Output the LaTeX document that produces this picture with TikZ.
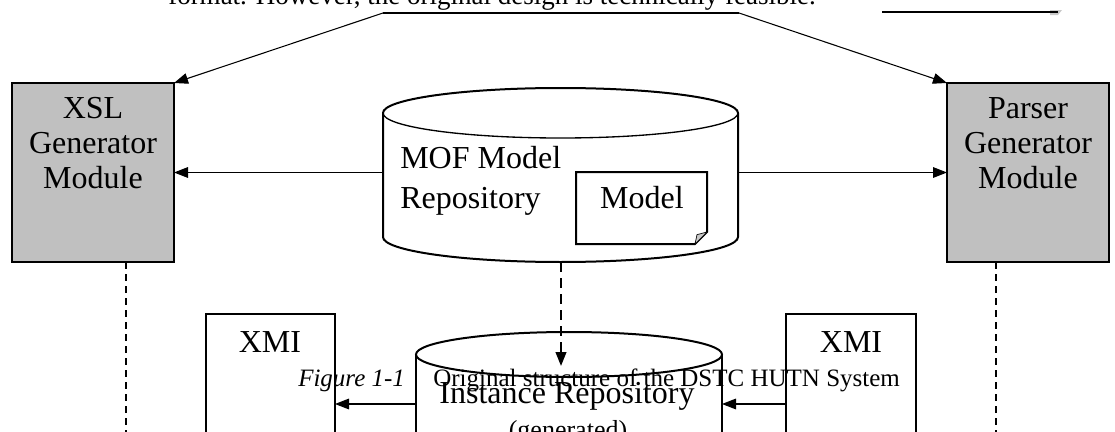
\documentclass[tikz,border=0pt]{standalone}
\usepackage{fontspec}
\setmainfont{Liberation Serif}
\usetikzlibrary{arrows.meta}
\definecolor{modgray}{RGB}{192,192,192}
\definecolor{foldgray}{RGB}{200,200,200}
\tikzset{
  module/.style={draw, fill=modgray, line width=1.5pt, inner sep=0pt, outer sep=0pt, anchor=north west},
  xmibox/.style={draw, fill=white, line width=1.5pt, inner sep=0pt, outer sep=0pt, anchor=north west},
  area/.style={draw=none, inner sep=0pt, outer sep=0pt},
  cyl/.style={line width=1.5pt},
  lbl/.style={anchor=base, inner sep=0pt, font=\fontsize{24}{28}\selectfont},
  captext/.style={anchor=base west, inner sep=0pt, font=\fontsize{18.75}{22}\selectfont},
  arr/.style={line width=0.8pt, -{Triangle[length=10.5pt,width=8pt]}},
  bigdash/.style={line width=1.6pt, dash pattern=on 7.5pt off 4.5pt, -{Triangle[length=10.5pt,width=8pt]}},
  thindash/.style={line width=1.1pt, dash pattern=on 5.5pt off 3.5pt},
}
\begin{document}
\begin{tikzpicture}[x=0.75pt,y=0.75pt]
\useasboundingbox (0,0) rectangle (1115,-432);

% running text line above the figure
\node[captext, font=\fontsize{20.25}{24}\selectfont] (runtext) at (168,-5) {format. However, the original design is technically feasible.};
\coordinate (ta) at (383,-13);
\coordinate (tb) at (739,-13);
\draw[line width=2pt] (ta) -- (tb);
% edge of a shadowed frame on the right
\fill[foldgray] (1050,-10) -- (1062,-10) -- (1058,-15) -- (1050,-15) -- cycle;
\draw[line width=2pt] (882,-12) -- (1058,-12);

% generator modules
\node[module, minimum width=121.5pt, minimum height=134.25pt] (xsl) at (12,-83) {};
\node[module, minimum width=121.5pt, minimum height=134.25pt] (parser) at (947,-83) {};
\node[lbl] (xsl1) at (93,-118) {XSL};
\node[lbl] (xsl2) at (93,-153) {Generator};
\node[lbl] (xsl3) at (93,-188) {Module};
\node[lbl] (par1) at (1028,-118) {Parser};
\node[lbl] (par2) at (1028,-153) {Generator};
\node[lbl] (par3) at (1028,-188) {Module};

% MOF model repository (cylinder)
\node[area, minimum width=266.25pt, minimum height=130.5pt] (mof) at (560.5,-175) {};
\draw[cyl, fill=white] (383,-113) -- (383,-237)
  arc[start angle=180, end angle=360, x radius=177.5, y radius=25]
  -- (738,-113)
  arc[start angle=0, end angle=180, x radius=177.5, y radius=25] -- cycle;
\draw[line width=1pt] (383,-113) arc[start angle=180, end angle=360, x radius=177.5, y radius=25];
\node[lbl, anchor=base west] (mof1) at (400,-168) {MOF Model};
\node[lbl, anchor=base west] (mof2) at (400,-208) {Repository};

% model document with folded corner
\node[area, anchor=north west, minimum width=98.25pt, minimum height=54pt] (model) at (576,-172) {};
\draw[line width=1.5pt, fill=white] (model.north west) -- (model.north east)
  -- ([yshift=9pt]model.south east) -- ([xshift=-9pt]model.south east)
  -- (model.south west) -- cycle;
\fill[foldgray, draw=black, line width=0.5pt] ([xshift=-9pt]model.south east)
  -- ([xshift=-7.5pt, yshift=7pt]model.south east) -- ([yshift=9pt]model.south east) -- cycle;
\node[lbl] (modeltxt) at (642,-208) {Model};

% XMI boxes
\node[xmibox, minimum width=96.75pt, minimum height=112.5pt] (xmil) at (206,-314) {};
\node[xmibox, minimum width=97.5pt, minimum height=112.5pt] (xmir) at (786,-314) {};
\node[lbl] (xmil1) at (270,-352) {XMI};
\node[lbl] (xmir1) at (851,-352) {XMI};

% instance repository (cylinder)
\node[area, minimum width=229.5pt, minimum height=108pt] (inst) at (569,-404) {};
\fill[white] (416,-354.5) rectangle (722,-480);
\draw[cyl] (416,-354.5) -- (416,-480);
\draw[cyl] (722,-354.5) -- (722,-480);
\draw[cyl] (569,-354.5) ellipse[x radius=153, y radius=22.5];
\node[lbl] (inst1) at (567,-403) {Instance Repository};
\node[lbl, font=\fontsize{19.5}{22}\selectfont] (inst2) at (568,-438) {(generated)};

% connectors
\draw[arr] (ta) -- (xsl.north east);
\draw[arr] (tb) -- (parser.north west);
\draw[arr] (mof.west |- xsl.east) -- (xsl.east);
\draw[arr] (mof.east |- parser.east) -- (parser.west);
\coordinate (dend) at (561,-366);
\draw[bigdash] (dend |- mof.south) -- (dend);
\draw[arr] (inst.west) -- (inst.west -| xmil.east);
\draw[arr] (inst.east -| xmir.west) -- (inst.east);
\coordinate (xd) at (126,-440);
\coordinate (pd) at (996,-440);
\draw[thindash] (xd |- xsl.south) -- (xd);
\draw[thindash] (pd |- parser.south) -- (pd);

% figure caption
\node[captext, font=\fontsize{18.75}{22}\selectfont\itshape] (figno) at (298,-386) {Figure 1-1};
\node[captext] (figtxt) at (433,-386) {Original structure of the DSTC HUTN System};
\end{tikzpicture}
\end{document}
